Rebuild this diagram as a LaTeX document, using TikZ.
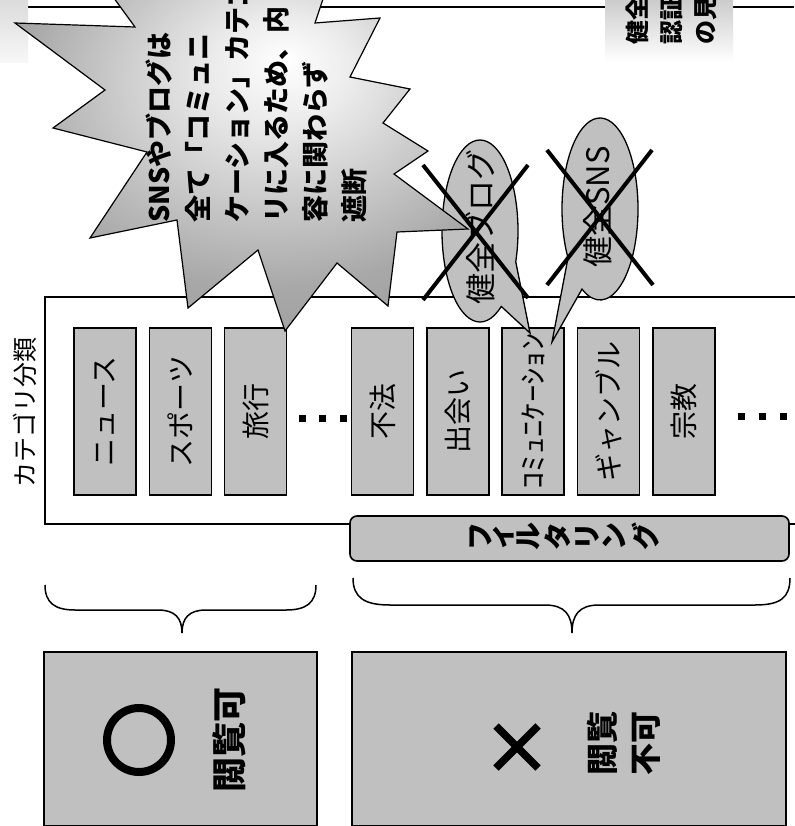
\documentclass[tikz,border=0pt]{standalone}
\usepackage{fontspec}
\usepackage{graphicx}
\setmainfont{Noto Sans CJK JP}
\definecolor{boxgray}{RGB}{192,192,192}
\pgfdeclareradialshading{burst}{\pgfpoint{5bp}{15bp}}{color(0bp)=(white); color(8bp)=(white!92!black); color(28bp)=(white!66!black); color(50bp)=(white!56!black); color(75bp)=(white!50!black)}
\tikzset{
  frameline/.style={line width=1.6pt},
  catbox/.style={draw, line width=1.6pt, fill=boxgray, rotate=90, minimum width=167pt, minimum height=62pt, inner sep=0pt, font=\fontsize{28}{28}\selectfont},
  dotsq/.style={fill=black, inner sep=0pt, minimum size=7pt, rectangle},
  rottext/.style={rotate=90, inner sep=0pt},
  callout/.style={draw, line width=1.3pt, fill=boxgray},
  crossline/.style={line width=4pt},
  bracepath/.style={line width=1.5pt},
  resultbox/.style={draw, line width=1.6pt, fill=boxgray, inner sep=0pt},
  filtchar/.style={rotate=90, inner sep=0pt, font=\bfseries\fontsize{28}{28}\selectfont},
}
\begin{document}
\begin{tikzpicture}[x=1pt,y=-1pt]
\useasboundingbox (0,0) rectangle (794,826);
\fill[white] (0,0) rectangle (794,826);

% top frame line and title boxes
\coordinate (tl) at (28,7);
\coordinate (tr) at (794,7);
\draw[frameline] (tl) -- (tr);
\shade[top color=black!14, bottom color=black!3] (0,0) rectangle (28,63);
\shade[top color=black!20, bottom color=white] (605,0) rectangle (733,62);
\node[rottext, anchor=north west, align=left, font=\bfseries\fontsize{24}{34}\selectfont] (trtext) at (626,45) {健全\\認証\\の見};

% category frame
\draw[frameline] (800,297) -- (45,297) -- (45,524) -- (800,524);
\node[rottext, font=\fontsize{25}{25}\selectfont] (catlabel) at (25,412) {カテゴリ分類};

\node[catbox] (news) at (105,411.5) {ニュース};
\node[catbox] (sports) at (180.5,411.5) {スポーツ};
\node[catbox] (travel) at (255.5,411.5) {旅行};
\node[catbox] (illegal) at (382.5,411.5) {不法};
\node[catbox] (dating) at (458,411.5) {出会い};
\node[catbox] (comm) at (533,411.5) {\scalebox{1.24}[1]{ｺﾐｭﾆｹｰｼｮﾝ}};
\node[catbox] (gamble) at (608.5,411.5) {ギャンブル};
\node[catbox] (religion) at (684,411.5) {宗教};

\node[dotsq] (d1) at (302,418) {};
\node[dotsq] (d2) at (322,418) {};
\node[dotsq] (d3) at (343,418) {};
\node[dotsq] (d4) at (741,416) {};
\node[dotsq] (d5) at (762,416) {};
\node[dotsq] (d6) at (783,416) {};

% filtering bar
\node[draw, line width=1.6pt, fill=boxgray, rounded corners=7pt, minimum width=439pt, minimum height=45pt, inner sep=0pt] (filt) at (569.5,538.5) {};
\foreach \c/\xx [count=\i] in {フ/481, ィ/504, ル/529, タ/558, リ/587, ン/614, グ/646}
  \node[filtchar] (f\i) at (\xx,536) {\c};

% callouts
\path[callout] (480,231) ++(56:38 and 91) arc[start angle=56, end angle=379.8, x radius=38, y radius=91] -- (530,333) -- cycle;
\path[callout] (600,209) ++(147.4:38 and 91) arc[start angle=147.4, end angle=478.3, x radius=38, y radius=91] -- (552,342) -- cycle;
\node[rottext, font=\fontsize{31}{31}\selectfont] (blogtext) at (480,227) {健全ブログ};
\node[rottext, font=\fontsize{31}{31}\selectfont] (snstext) at (598,207) {健全SNS};

% starburst
\shade[shading=burst, draw=black, line width=1.2pt, line join=miter]
  (108,-10) -- (135,27) -- (15,23) -- (105,90) -- (53,128) -- (147,152) -- (90,238) -- (177,220)
  -- (188,308) -- (258,250) -- (285,331) -- (337,263) -- (388,306) -- (397,232) -- (468,229)
  -- (394,174) -- (428,151) -- (383,123) -- (410,89) -- (350,77) -- (380,18) -- (315,23) -- (326,-10) -- cycle;
\node[rottext, anchor=north west, align=left, font=\bfseries\fontsize{27}{39}\selectfont] (bursttext) at (146,223)
  {SNSやブログは\\全て「コミュニ\\ケーション」カテゴ\\リに入るため、内\\容に関わらず\\遮断};

% crosses
\draw[crossline] (423,165) -- (528,298);
\draw[crossline] (528,165) -- (423,300);
\draw[crossline] (547,150) -- (653,285);
\draw[crossline] (652,150) -- (547,285);

% braces
\draw[bracepath] (45,585) .. controls (45,603) and (55,610) .. (75,610) -- (158,610)
  .. controls (175,610) and (182,618) .. (182,633) .. controls (182,618) and (189,610) .. (206,610)
  -- (286,610) .. controls (306,610) and (316,603) .. (316,585);
\draw[bracepath] (353,578) .. controls (353,598) and (365,605) .. (390,605) -- (545,605)
  .. controls (565,605) and (572,615) .. (572,633) .. controls (572,615) and (579,605) .. (599,605)
  -- (755,605) .. controls (780,605) and (790,598) .. (790,578);

% result boxes
\node[resultbox, minimum width=273pt, minimum height=174pt] (okbox) at (180.5,739) {};
\node[resultbox, minimum width=434pt, minimum height=174pt] (ngbox) at (569,739) {};
\node[circle, draw, line width=8pt, minimum size=64pt, inner sep=0pt] (ring) at (139,740) {};
\node[rottext, font=\bfseries\fontsize{35}{35}\selectfont] (oktext) at (229,740) {閲覧可};
\draw[line width=7.5pt] (496,726) -- (538,768);
\draw[line width=7.5pt] (538,726) -- (496,768);
\node[rottext, align=center, font=\bfseries\fontsize{32}{43}\selectfont] (ngtext) at (623.5,743) {閲覧\\不可};
\end{tikzpicture}
\end{document}
